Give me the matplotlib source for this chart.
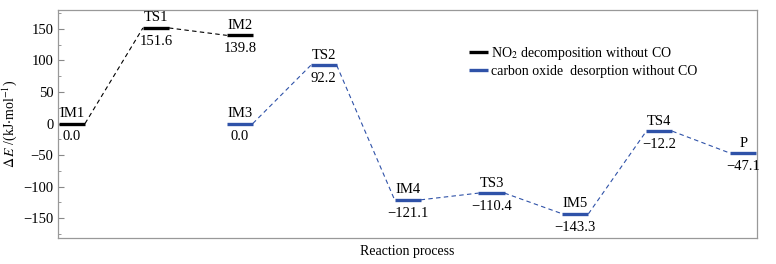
import numpy as np
import matplotlib
matplotlib.use("Agg")
import matplotlib.pyplot as plt

plt.rcParams['font.family'] = ['Liberation Serif', 'DejaVu Serif']
plt.rcParams['mathtext.fontset'] = 'stix'

# NO2 decomposition path
names1 = ["IM1", "TS1", "IM2"]
pos1 = [0, 1, 2]
e1 = [0.0, 151.6, 139.8]

# carbon oxide desorption path
names2 = ["IM3", "TS2", "IM4", "TS3", "IM5", "TS4", "P"]
pos2 = [2, 3, 4, 5, 6, 7, 8]
e2 = [0.0, 92.2, -121.1, -110.4, -143.3, -12.2, -47.1]

hw = 0.155
blue = "#2f52a8"

fig, ax = plt.subplots(figsize=(7.76, 2.64), dpi=100)
fig.subplots_adjust(left=0.075, right=0.975, top=0.962, bottom=0.10)


def draw_path(pos, en, names, color, label):
    for i, (x, y, n) in enumerate(zip(pos, en, names)):
        ax.plot([x - hw, x + hw], [y, y], color=color, lw=2.4,
                solid_capstyle='butt', label=label if i == 0 else None)
        ax.annotate(n, (x, y), xytext=(0, 2.5), textcoords='offset points',
                    ha='center', va='bottom', fontsize=10.5)
        ax.annotate(f"{y:.1f}".replace("-", "\u2212"), (x, y), xytext=(0, -5),
                    textcoords='offset points', ha='center', va='top', fontsize=10.5)
        if i < len(pos) - 1:
            ax.plot([x + hw, pos[i + 1] - hw], [y, en[i + 1]], color=color,
                    lw=0.8, ls=(0, (4, 3)))


draw_path(pos1, e1, names1, "black", "NO$_2$ decomposition without CO")
draw_path(pos2, e2, names2, blue, "carbon oxide  desorption without CO")

ax.set_xlim(-0.165, 8.16)
ax.set_ylim(-181, 180)
ax.set_yticks(np.arange(-150, 151, 50))
ax.set_yticks(np.arange(-175, 176, 25), minor=True)
ax.set_xticks([])
ax.tick_params(axis='y', direction='in', length=4, width=0.8, color='#888888', labelsize=10.5)
ax.tick_params(axis='y', which='minor', direction='in', length=2, color='#888888')
for s in ax.spines.values():
    s.set_color('#999999')
    s.set_linewidth(0.9)
ax.set_yticklabels([str(v).replace("-", "\u2212") for v in range(-150, 151, 50)])

ax.set_ylabel(r"$\Delta\,E$ /(kJ$\cdot$mol$^{-1}$)", fontsize=10, labelpad=3)
ax.set_xlabel("Reaction process", fontsize=10, labelpad=5)

ax.legend(loc='upper left', bbox_to_anchor=(0.58, 0.87), frameon=False, fontsize=10,
          handlelength=1.4, handletextpad=0.2, labelspacing=0.2, borderaxespad=0)

fig.savefig("out.png", dpi=100)
